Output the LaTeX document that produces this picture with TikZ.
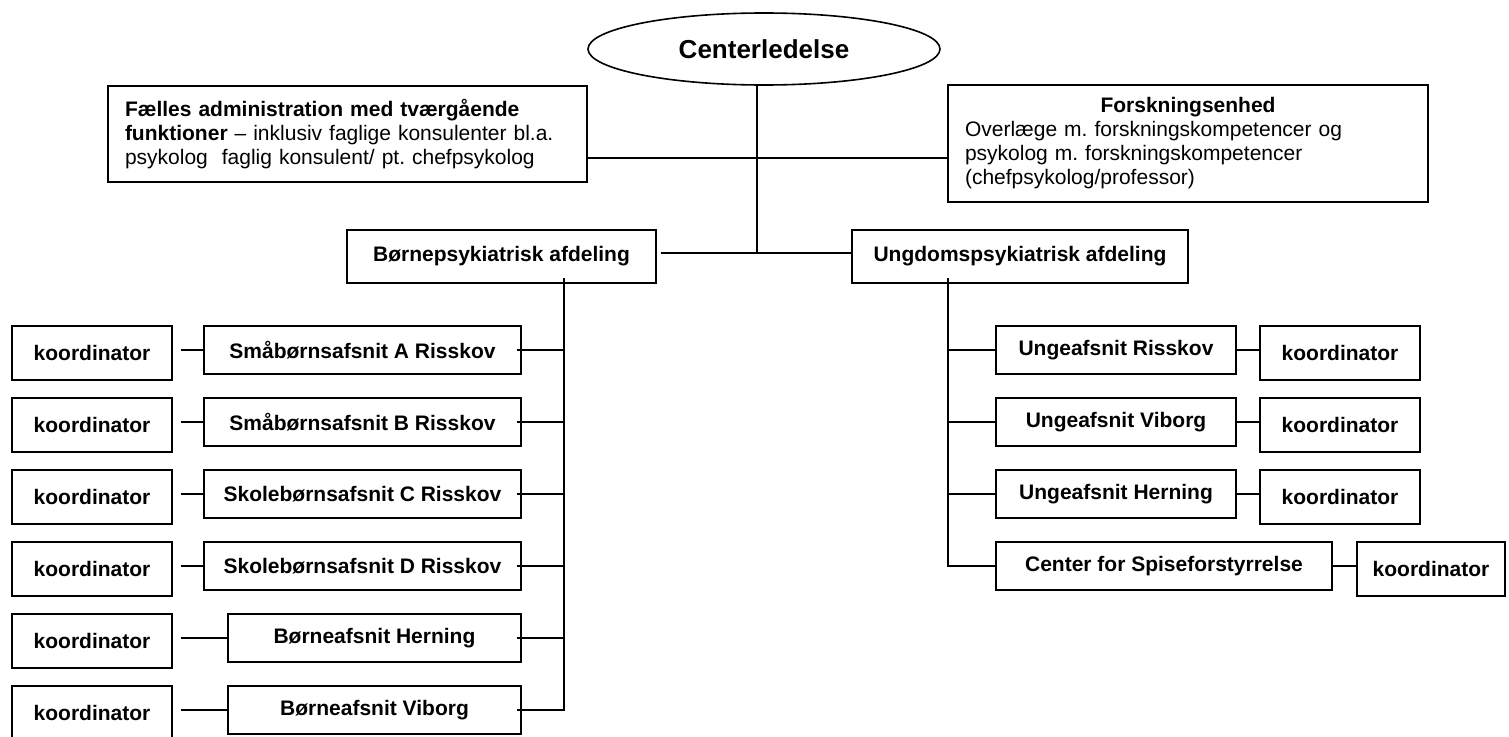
\documentclass[tikz,border=0pt]{standalone}
\usepackage{fontspec}
\setmainfont{Liberation Sans}
\frenchspacing
\usetikzlibrary{shapes.geometric,positioning}
\begin{document}
\begin{tikzpicture}[x=1pt,y=-1pt,
      kasse/.style={rectangle, draw=black, line width=1.6pt, inner sep=0pt, font=\fontsize{21}{24}\selectfont\bfseries},
      koord/.style={kasse, minimum width=160pt, minimum height=54pt},
      afsnit/.style={kasse, minimum height=48pt},
      tekst/.style={rectangle, draw=black, line width=1.6pt, inner xsep=17pt, inner ysep=0pt, align=left, font=\fontsize{21}{24}\selectfont},
      streg/.style={line width=1.6pt}]

\useasboundingbox (0,0) rectangle (1509,736);

\node[ellipse, draw=black, line width=1.6pt, minimum width=352pt, minimum height=72pt, font=\fontsize{26}{30}\selectfont\bfseries] (cl) at (764,49) {Centerledelse};
\node[tekst, text width=445pt, minimum height=96pt] (adm) at (347.5,134) {\textbf{Fælles administration med tværgående}\\\textbf{funktioner} -- inklusiv faglige konsulenter bl.a.\\psykolog\ \ faglig konsulent/ pt. chefpsykolog};
\node[tekst, text width=446pt, minimum height=117pt] (fe) at (1188,143.5) {\hfill\textbf{Forskningsenhed}\hfill\mbox{}\\Overlæge m. forskningskompetencer og\\psykolog m. forskningskompetencer\\(chefpsykolog/professor)};

\node[kasse, minimum width=309pt, minimum height=53pt] (bpa) at (501.5,256.5) {Børnepsykiatrisk afdeling};
\node[kasse, minimum width=336pt, minimum height=53pt] (upa) at (1020,256.5) {Ungdomspsykiatrisk afdeling};

\node[afsnit, minimum width=317pt] (b1) at (362.5,350) {Småbørnsafsnit A Risskov};
\node[afsnit, minimum width=317pt] (b2) at (362.5,422) {Småbørnsafsnit B Risskov};
\node[afsnit, minimum width=317pt] (b3) at (362.5,494) {Skolebørnsafsnit C Risskov};
\node[afsnit, minimum width=317pt] (b4) at (362.5,566) {Skolebørnsafsnit D Risskov};
\node[afsnit, minimum width=293pt] (b5) at (374.5,638) {Børneafsnit Herning};
\node[afsnit, minimum width=293pt] (b6) at (374.5,710) {Børneafsnit Viborg};

\node[koord] (k1) at (92,353) {koordinator};
\node[koord] (k2) at (92,425) {koordinator};
\node[koord] (k3) at (92,497) {koordinator};
\node[koord] (k4) at (92,569) {koordinator};
\node[koord] (k5) at (92,641) {koordinator};
\node[koord] (k6) at (92,713) {koordinator};

\node[afsnit, minimum width=240pt] (u1) at (1116,350) {Ungeafsnit Risskov};
\node[afsnit, minimum width=240pt] (u2) at (1116,422) {Ungeafsnit Viborg};
\node[afsnit, minimum width=240pt] (u3) at (1116,494) {Ungeafsnit Herning};
\node[afsnit, minimum width=336pt] (u4) at (1164,566) {Center for Spiseforstyrrelse};

\node[koord] (uk1) at (1340,353) {koordinator};
\node[koord] (uk2) at (1340,425) {koordinator};
\node[koord] (uk3) at (1340,497) {koordinator};
\node[koord, minimum width=148pt] (uk4) at (1431,569) {koordinator};

\coordinate (midt) at (757,253);
\coordinate (vbus) at (564,278);
\coordinate (hbus) at (948,278);

\draw[streg] (cl.south -| midt) -- (midt);
\draw[streg] ([yshift=-24pt]adm.east) -- ([yshift=-24pt]adm.east -| fe.west);
\draw[streg] ([xshift=4pt,yshift=3.5pt]bpa.east) -- ([yshift=3.5pt]upa.west);

\draw[streg] (vbus) |- ([xshift=-5pt]b6.east);
\draw[streg] ([xshift=-5pt]b1.east) -- (b1.east -| vbus);
\draw[streg] ([xshift=-5pt]b2.east) -- (b2.east -| vbus);
\draw[streg] ([xshift=-5pt]b3.east) -- (b3.east -| vbus);
\draw[streg] ([xshift=-5pt]b4.east) -- (b4.east -| vbus);
\draw[streg] ([xshift=-5pt]b5.east) -- (b5.east -| vbus);

\draw[streg] ([xshift=8pt]k1.east |- b1.west) -- (b1.west);
\draw[streg] ([xshift=8pt]k2.east |- b2.west) -- (b2.west);
\draw[streg] ([xshift=8pt]k3.east |- b3.west) -- (b3.west);
\draw[streg] ([xshift=8pt]k4.east |- b4.west) -- (b4.west);
\draw[streg] ([xshift=8pt]k5.east |- b5.west) -- (b5.west);
\draw[streg] ([xshift=8pt]k6.east |- b6.west) -- (b6.west);

\draw[streg] (hbus) |- (u4.west);
\draw[streg] (u1.west) -- (u1.west -| hbus);
\draw[streg] (u2.west) -- (u2.west -| hbus);
\draw[streg] (u3.west) -- (u3.west -| hbus);

\draw[streg] (u1.east) -- (u1.east -| uk1.west);
\draw[streg] (u2.east) -- (u2.east -| uk2.west);
\draw[streg] (u3.east) -- (u3.east -| uk3.west);
\draw[streg] (u4.east) -- (u4.east -| uk4.west);

\end{tikzpicture}
\end{document}
